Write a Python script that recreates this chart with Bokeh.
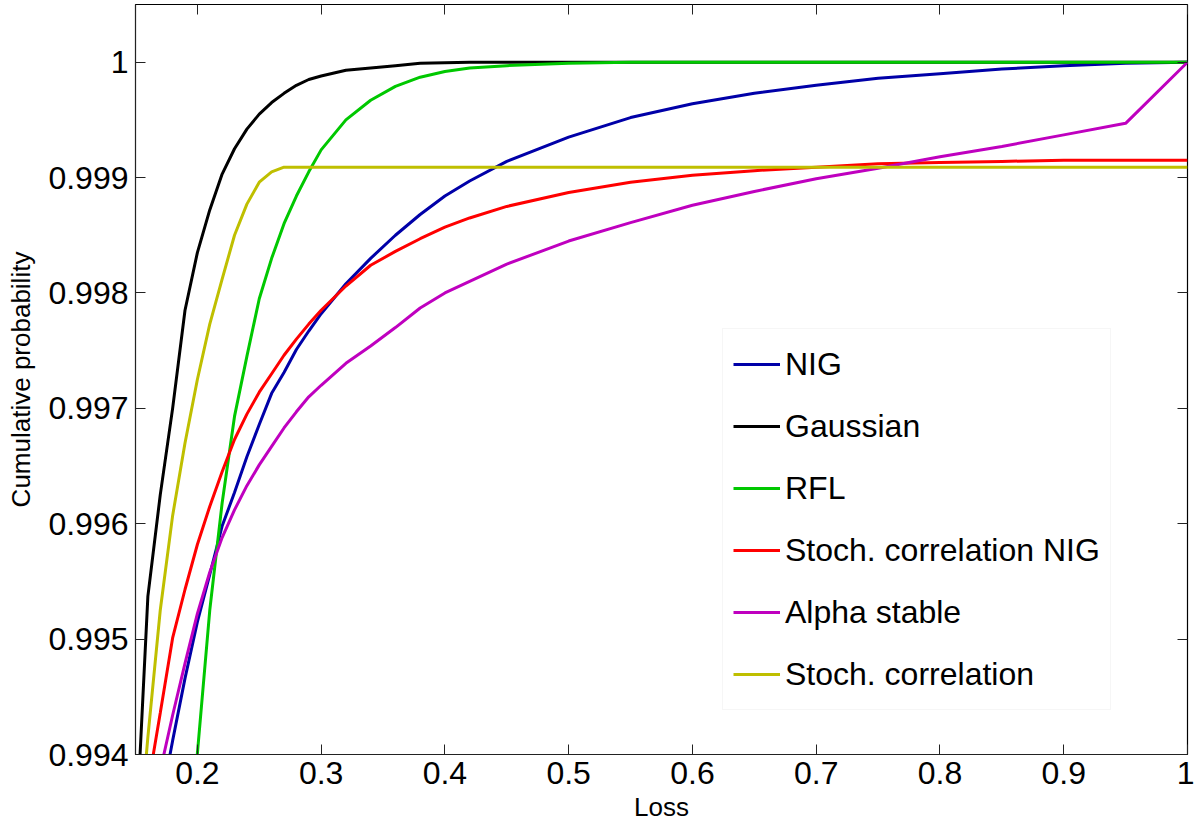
import numpy as np
from bokeh.plotting import figure
from bokeh.models import LinearAxis, FixedTicker, Legend, LegendItem, Range1d, CustomLabelingPolicy
from bokeh.embed import file_html
from bokeh.resources import INLINE

nan = float("nan")

# Loss grid
loss = [0.15, 0.16, 0.17, 0.18, 0.19, 0.20, 0.21, 0.22, 0.23, 0.24, 0.25, 0.26,
        0.27, 0.28, 0.29, 0.30, 0.32, 0.34, 0.36, 0.38, 0.40, 0.42, 0.45, 0.50,
        0.55, 0.60, 0.65, 0.70, 0.75, 0.80, 0.85, 0.90, 0.95, 1.00]

nig = [nan, nan, 0.99355, 0.99412, 0.99466, 0.99515, 0.99556, 0.99598, 0.99627, 0.99658,
       0.99686, 0.99713, 0.99731, 0.99751, 0.99767, 0.99782, 0.99808, 0.99830, 0.99850, 0.99868,
       0.99884, 0.99897, 0.99914, 0.99935, 0.99952, 0.99964, 0.99973, 0.99980, 0.99986, 0.99990,
       0.99994, 0.99997, 0.99999, 1.0]

gaussian = [0.9932, 0.99537, 0.99625, 0.99700, 0.99785, 0.99835, 0.99872, 0.99903, 0.99925, 0.99942,
            0.99955, 0.99965, 0.99973, 0.99980, 0.99985, 0.99988, 0.99993, 0.99995, 0.99997, 0.99999,
            0.999995, 1.0, 1.0, 1.0, 1.0, 1.0, 1.0, 1.0, 1.0, 1.0,
            1.0, 1.0, 1.0, 1.0]

rfl = [nan, nan, nan, nan, 0.99265, 0.99401, 0.99525, 0.99618, 0.99693, 0.99745,
       0.99795, 0.99830, 0.99860, 0.99884, 0.99905, 0.99924, 0.99950, 0.99967, 0.99979, 0.99987,
       0.99992, 0.99995, 0.99997, 0.99999, 1.0, 1.0, 1.0, 1.0, 1.0, 1.0,
       1.0, 1.0, 1.0, 1.0]

stoch_nig = [nan, 0.99372, 0.99436, 0.99501, 0.99543, 0.99582, 0.99615, 0.99645, 0.99673, 0.99695,
             0.99714, 0.99730, 0.99746, 0.99760, 0.99773, 0.99785, 0.99806, 0.99824, 0.99836, 0.99847,
             0.99857, 0.99865, 0.99875, 0.99887, 0.99896, 0.99902, 0.99906, 0.99909, 0.99912, 0.99913,
             0.99914, 0.99915, 0.99915, 0.99915]

alpha_stable = [nan, nan, 0.99386, 0.99434, 0.99479, 0.99522, 0.99558, 0.99588, 0.99612, 0.99633,
                0.99651, 0.99667, 0.99683, 0.99697, 0.99710, 0.99720, 0.99739, 0.99754, 0.99770, 0.99787,
                0.99800, 0.99810, 0.99825, 0.99845, 0.99861, 0.99876, 0.99888, 0.99899, 0.99908, 0.99918,
                0.99927, 0.99937, 0.99947, 1.0]

stoch = [0.99291, 0.99415, 0.99525, 0.99607, 0.99670, 0.99725, 0.99773, 0.99812, 0.99850, 0.99877,
         0.99896, 0.99905, 0.99909, 0.99909, 0.99909, 0.99909, 0.99909, 0.99909, 0.99909, 0.99909,
         0.99909, 0.99909, 0.99909, 0.99909, 0.99909, 0.99909, 0.99909, 0.99909, 0.99909, 0.99909,
         0.99909, 0.99909, 0.99909, 0.99909]

series_names = ["NIG", "Gaussian", "RFL", "Stoch. correlation NIG", "Alpha stable", "Stoch. correlation"]
series_values = [nig, gaussian, rfl, stoch_nig, alpha_stable, stoch]
series_colors = ["#0000a8", "#000000", "#00c800", "#ff0000", "#bf00bf", "#bfbf00"]

x_ticks = [0.2, 0.3, 0.4, 0.5, 0.6, 0.7, 0.8, 0.9, 1.0]
x_labels = ["0.2", "0.3", "0.4", "0.5", "0.6", "0.7", "0.8", "0.9", "1"]
y_ticks = [0.994, 0.995, 0.996, 0.997, 0.998, 0.999, 1.0]
y_labels = ["0.994", "0.995", "0.996", "0.997", "0.998", "0.999", "1"]

FONT = "Liberation Sans"

p = figure(width=1194, height=830, output_backend="svg", toolbar_location=None,
           x_range=Range1d(0.15, 1.0), y_range=Range1d(0.994, 1.0005),
           x_axis_label="Loss", y_axis_label="Cumulative probability",
           min_border_left=135, min_border_right=7, min_border_top=3, min_border_bottom=76)
p.grid.visible = False
p.outline_line_color = "black"
p.outline_line_width = 1.2
p.background_fill_color = "white"
p.border_fill_color = "white"

for ax, ticks, labels in ((p.xaxis[0], x_ticks, x_labels), (p.yaxis[0], y_ticks, y_labels)):
    ax.ticker = FixedTicker(ticks=ticks)
    ax.major_label_overrides = dict(zip(ticks, labels))
    ax.major_label_text_font = FONT
    ax.major_label_text_font_size = "32px"
    ax.major_label_text_color = "black"
    ax.axis_label_text_font = FONT
    ax.axis_label_text_font_size = "26px"
    ax.axis_label_text_font_style = "normal"
    ax.axis_label_text_color = "black"
    ax.major_tick_in = 10
    ax.major_tick_out = 0
    ax.major_tick_line_color = "#222222"
    ax.minor_tick_line_color = None
    ax.axis_line_color = "#222222"
    ax.major_label_standoff = 7
p.xaxis[0].axis_label_standoff = 5
p.yaxis[0].axis_label_standoff = 9

no_labels = CustomLabelingPolicy(code="""
const out = [];
for (const i of indices) out.push(i);
for (const i of out) indices.unset(i);
return indices;
""")

for place, ticks in (("above", x_ticks), ("right", y_ticks)):
    ax = LinearAxis(ticker=FixedTicker(ticks=ticks), major_label_policy=no_labels,
                    major_label_text_font_size="1px",
                    major_label_standoff=0, major_tick_in=10, major_tick_out=0,
                    minor_tick_line_color=None, axis_line_color=None,
                    major_tick_line_color="#222222")
    p.add_layout(ax, place)

items = []
for name, vals, col in zip(series_names, series_values, series_colors):
    r = p.line(loss, np.array(vals, dtype=float), line_color=col, line_width=3)
    items.append(LegendItem(label=name, renderers=[r]))

legend = Legend(items=items, location=(587, 44), label_text_font=FONT,
                label_text_font_size="32px", label_text_color="black",
                glyph_width=47, glyph_height=50, label_height=50, spacing=12,
                padding=10, margin=0, label_standoff=5,
                border_line_color="#eeeeee", background_fill_color="white",
                background_fill_alpha=1.0)
p.add_layout(legend)

open("out.html", "w").write(file_html(p, INLINE))
